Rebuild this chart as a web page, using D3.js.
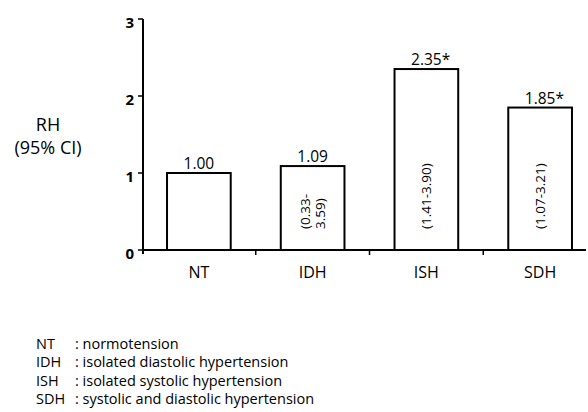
<!DOCTYPE html>
<html>
<head>
<meta charset="utf-8">
<script src="https://cdn.jsdelivr.net/npm/d3@7"></script>
<style>
  body { margin: 0; background: #fff; }
  svg { display: block; font-family: "Open Sans", sans-serif; }
</style>
</head>
<body>
<svg width="588" height="412"></svg>
<script>
const categories = ["NT", "IDH", "ISH", "SDH"];
const values = [1.00, 1.09, 2.35, 1.85];
const valueLabels = ["1.00", "1.09", "2.35", "1.85"];
const stars = [false, false, true, true];
const ciLabels = [[], ["(0.33-", "3.59)"], ["(1.41-3.90)"], ["(1.07-3.21)"]];
const yTicks = [0, 1, 2, 3];
const legendAbbr = ["NT", "IDH", "ISH", "SDH"];
const legendText = [": normotension", ": isolated diastolic hypertension",
  ": isolated systolic hypertension", ": systolic and diastolic hypertension"];

const svg = d3.select("svg");

const x = d3.scaleBand()
  .domain(categories)
  .range([142, 597])
  .paddingInner(0.44)
  .paddingOuter(0.22);

const y = d3.scaleLinear()
  .domain([0, 3])
  .range([250, 19]);

// bars
svg.append("g")
  .selectAll("rect")
  .data(values)
  .join("rect")
  .attr("x", (d, i) => x(categories[i]))
  .attr("y", d => y(d))
  .attr("width", x.bandwidth())
  .attr("height", d => y(0) - y(d))
  .attr("fill", "#fff")
  .attr("stroke", "#000")
  .attr("stroke-width", 2);

// x axis
svg.append("line")
  .attr("x1", 142).attr("x2", 586)
  .attr("y1", y(0)).attr("y2", y(0))
  .attr("stroke", "#000").attr("stroke-width", 2);

svg.append("g")
  .selectAll("line")
  .data(categories.slice(1))
  .join("line")
  .attr("x1", d => x(d) - x.step() * x.paddingInner() / 2)
  .attr("x2", d => x(d) - x.step() * x.paddingInner() / 2)
  .attr("y1", y(0)).attr("y2", y(0) + 5)
  .attr("stroke", "#000").attr("stroke-width", 1.5);

svg.append("g")
  .selectAll("text")
  .data(categories)
  .join("text")
  .attr("x", d => x(d) + x.bandwidth() / 2)
  .attr("y", 278)
  .attr("text-anchor", "middle")
  .attr("font-size", 16)
  .text(d => d);

// y axis
svg.append("line")
  .attr("x1", 143).attr("x2", 143)
  .attr("y1", y(3)).attr("y2", y(0) + 4)
  .attr("stroke", "#000").attr("stroke-width", 2);

const yt = svg.append("g")
  .selectAll("g")
  .data(yTicks)
  .join("g")
  .attr("transform", d => `translate(143,${y(d)})`);

yt.append("line")
  .attr("x1", -5).attr("x2", 0)
  .attr("stroke", "#000").attr("stroke-width", 1.5);

yt.append("text")
  .attr("x", -9)
  .attr("y", 8.5)
  .attr("text-anchor", "end")
  .attr("font-size", 15)
  .attr("font-weight", "bold")
  .text(d => d);

// y title
svg.append("text")
  .attr("x", 48).attr("y", 131)
  .attr("text-anchor", "middle")
  .attr("font-size", 18)
  .text("RH");
svg.append("text")
  .attr("x", 48).attr("y", 154)
  .attr("text-anchor", "middle")
  .attr("font-size", 18)
  .text("(95% CI)");

// value labels
const vl = svg.append("g")
  .selectAll("g")
  .data(values)
  .join("g")
  .attr("transform", (d, i) => `translate(${x(categories[i]) + x.bandwidth() / 2},${y(d) - 4})`);

vl.append("text")
  .attr("text-anchor", "middle")
  .attr("font-size", 15.5)
  .text((d, i) => valueLabels[i])
  .each(function (d, i) {
    if (stars[i]) {
      const w = this.getComputedTextLength();
      d3.select(this.parentNode).append("text")
        .attr("x", w / 2)
        .attr("font-size", 15.5)
        .text("*");
    }
  });

// CI labels inside bars, rotated
svg.append("g")
  .selectAll("text")
  .data(ciLabels)
  .join("text")
  .attr("transform", (d, i) => `translate(${x(categories[i]) + x.bandwidth() / 2},${y(0) - 21}) rotate(-90)`)
  .attr("font-size", 13.5)
  .attr("text-anchor", "start")
  .each(function (d) {
    const n = d.length;
    d3.select(this).selectAll("tspan")
      .data(d)
      .join("tspan")
      .attr("x", 0)
      .attr("y", (t, j) => (j - (n - 1) / 2) * 15)
      .attr("dy", "0.35em")
      .text(t => t);
  });

// legend
const lg = svg.append("g")
  .selectAll("g")
  .data(legendAbbr)
  .join("g")
  .attr("transform", (d, i) => `translate(36,${349 + i * 18.3})`);

lg.append("text")
  .attr("font-size", 14.5)
  .text(d => d);

lg.append("text")
  .attr("x", 39)
  .attr("font-size", 14.5)
  .text((d, i) => legendText[i]);
</script>
</body>
</html>
